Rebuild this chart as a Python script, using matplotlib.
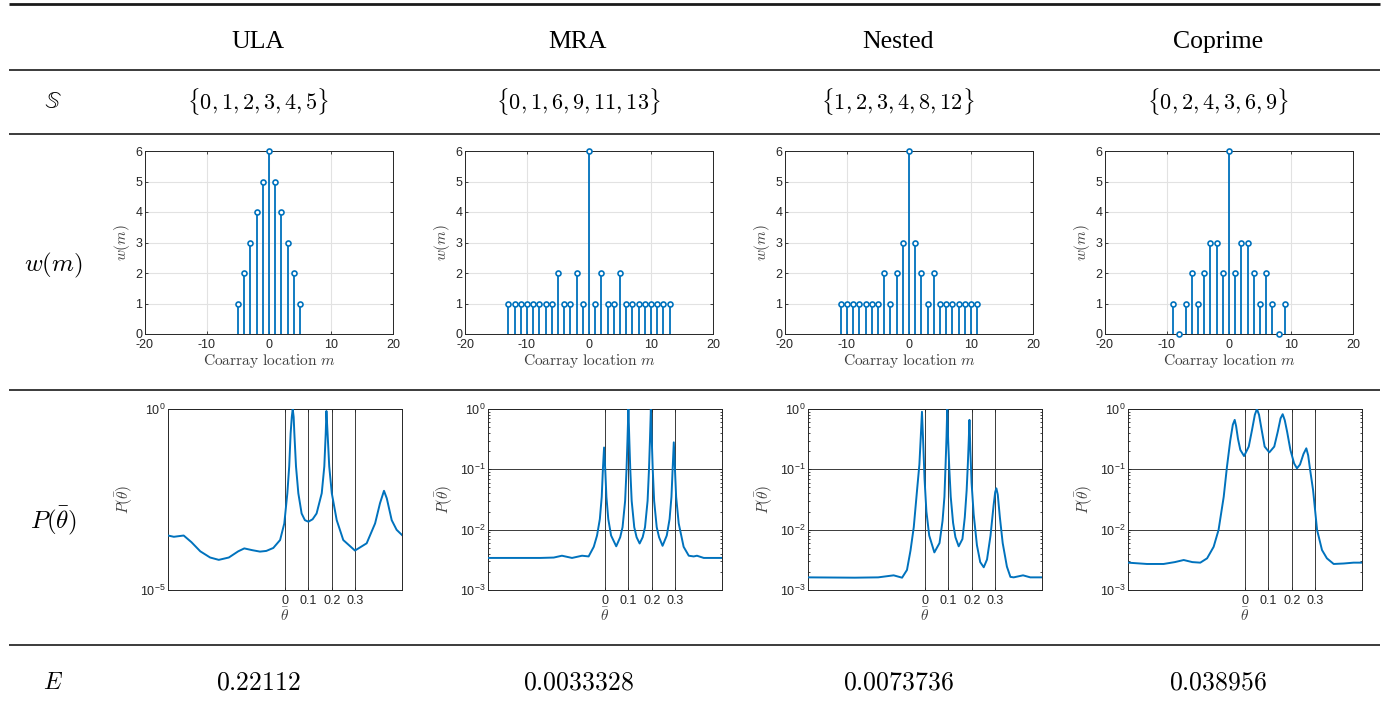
import numpy as np
import matplotlib
matplotlib.use("Agg")
import matplotlib.pyplot as plt
from matplotlib.ticker import FixedLocator, NullLocator, LogLocator

plt.rcParams["font.family"] = ["Liberation Sans", "DejaVu Sans"]
plt.rcParams["mathtext.fontset"] = "custom"
plt.rcParams["mathtext.rm"] = "Liberation Sans"
plt.rcParams["mathtext.it"] = "Liberation Sans:italic"
plt.rcParams["axes.unicode_minus"] = False

# ---- table content ----
arrays = ["ULA", "MRA", "Nested", "Coprime"]
sensor_sets = [r"$\{0,1,2,3,4,5\}$", r"$\{0,1,6,9,11,13\}$",
               r"$\{1,2,3,4,8,12\}$", r"$\{0,2,4,3,6,9\}$"]
energies = ["0.22112", "0.0033328", "0.0073736", "0.038956"]

# ---- weight functions w(m) ----
ula_m = list(range(-5, 6))
ula_w = [1, 2, 3, 4, 5, 6, 5, 4, 3, 2, 1]
mra_m = list(range(-13, 14))
mra_w = [1, 1, 1, 1, 1, 1, 1, 1, 2, 1, 1, 2, 1, 6,
         1, 2, 1, 1, 2, 1, 1, 1, 1, 1, 1, 1, 1]
nested_m = list(range(-11, 12))
nested_w = [1, 1, 1, 1, 1, 1, 1, 2, 1, 2, 3, 6,
            3, 2, 1, 2, 1, 1, 1, 1, 1, 1, 1]
coprime_m = list(range(-9, 10))
coprime_w = [1, 0, 1, 2, 1, 2, 3, 3, 2, 6, 2, 3, 3, 2, 1, 2, 1, 0, 1]

# ---- spectra P(theta_bar) ----
ula_theta = [-0.500, -0.475, -0.433, -0.400, -0.362, -0.320, -0.283, -0.240, -0.200,
             -0.174, -0.140, -0.107, -0.080, -0.050, -0.021, -0.003, 0.010, 0.018,
             0.024, 0.029, 0.033, 0.037, 0.040, 0.047, 0.057, 0.071, 0.085, 0.100,
             0.118, 0.135, 0.157, 0.168, 0.174, 0.177, 0.182, 0.189, 0.200, 0.221,
             0.249, 0.299, 0.349, 0.385, 0.406, 0.423, 0.435, 0.456, 0.477, 0.500]
ula_p = [3.2e-4, 2.95e-4, 3.2e-4, 2.1e-4, 1.17e-4, 7.9e-5, 6.8e-5, 7.9e-5, 1.17e-4,
         1.41e-4, 1.26e-4, 1.15e-4, 1.2e-4, 1.45e-4, 2.4e-4, 6.9e-4, 4.7e-3, 2.6e-2,
         0.21, 0.6, 1.0, 0.6, 0.21, 2.6e-2, 4.7e-3, 1.3e-3, 8.5e-4, 7.7e-4,
         9.0e-4, 1.3e-3, 4.7e-3, 2.6e-2, 0.21, 0.88, 0.21, 2.6e-2, 4.7e-3, 8.5e-4,
         2.4e-4, 1.23e-4, 1.95e-4, 6.9e-4, 2.5e-3, 5.5e-3, 3.4e-3, 8.5e-4, 4.6e-4, 3.3e-4]

mra_theta = [-0.500, -0.390, -0.276, -0.219, -0.184, -0.141, -0.098, -0.070, -0.048,
             -0.034, -0.022, -0.014, -0.009, -0.004, 0.001, 0.006, 0.014, 0.026, 0.048,
             0.065, 0.075, 0.086, 0.092, 0.096, 0.100, 0.104, 0.108, 0.114, 0.125,
             0.135, 0.148, 0.161, 0.171, 0.182, 0.188, 0.192, 0.196, 0.200, 0.204,
             0.210, 0.221, 0.231, 0.246, 0.264, 0.276, 0.284, 0.289, 0.294, 0.299,
             0.304, 0.315, 0.336, 0.358, 0.379, 0.393, 0.422, 0.500]
mra_p = [3.4e-3, 3.4e-3, 3.4e-3, 3.45e-3, 3.7e-3, 3.4e-3, 3.7e-3, 3.6e-3, 5.2e-3,
         8.0e-3, 1.5e-2, 3.5e-2, 0.1, 0.23, 0.1, 3.5e-2, 1.5e-2, 8.0e-3, 5.3e-3,
         7.5e-3, 1.1e-2, 3.0e-2, 0.1, 0.3, 1.0, 0.3, 0.1, 3.0e-2, 1.1e-2,
         7.5e-3, 5.9e-3, 7.5e-3, 1.1e-2, 3.0e-2, 0.1, 0.3, 1.0, 0.3, 0.1,
         3.0e-2, 1.1e-2, 7.5e-3, 5.4e-3, 8.0e-3, 1.5e-2, 3.5e-2, 0.1, 0.28, 0.1,
         3.5e-2, 1.27e-2, 5.2e-3, 3.7e-3, 3.6e-3, 3.7e-3, 3.4e-3, 3.4e-3]

nested_theta = [-0.500, -0.300, -0.200, -0.134, -0.098, -0.077, -0.062, -0.048, -0.034,
                -0.024, -0.018, -0.013, -0.008, -0.002, 0.006, 0.018, 0.040, 0.062,
                0.075, 0.083, 0.088, 0.092, 0.095, 0.099, 0.104, 0.110, 0.120, 0.130,
                0.144, 0.160, 0.170, 0.178, 0.183, 0.187, 0.190, 0.194, 0.199, 0.208,
                0.222, 0.236, 0.251, 0.265, 0.280, 0.293, 0.300, 0.305, 0.311, 0.320,
                0.332, 0.350, 0.365, 0.379, 0.419, 0.450, 0.500]
nested_p = [1.62e-3, 1.6e-3, 1.62e-3, 1.75e-3, 1.6e-3, 2.15e-3, 4.5e-3, 1.1e-2, 4.5e-2,
            0.12, 0.35, 0.90, 0.3, 7.0e-2, 2.0e-2, 8.0e-3, 4.2e-3, 6.0e-3,
            1.4e-2, 3.5e-2, 0.12, 0.35, 1.0, 0.3, 0.1, 3.5e-2, 1.3e-2, 7.5e-3,
            5.3e-3, 7.0e-3, 1.6e-2, 4.5e-2, 0.12, 0.3, 0.66, 0.2, 6.0e-2, 1.8e-2,
            5.5e-3, 2.9e-3, 2.38e-3, 3.2e-3, 8.0e-3, 2.5e-2, 4.2e-2, 4.84e-2, 3.8e-2, 1.6e-2,
            6.0e-3, 2.44e-3, 1.65e-3, 1.62e-3, 1.75e-3, 1.62e-3, 1.62e-3]

coprime_theta = [-0.500, -0.419, -0.348, -0.300, -0.262, -0.225, -0.191, -0.162, -0.134,
                 -0.113, -0.091, -0.077, -0.063, -0.052, -0.044, -0.038, -0.030, -0.020,
                 -0.004, 0.016, 0.030, 0.042, 0.051, 0.060, 0.070, 0.084, 0.104, 0.125,
                 0.140, 0.152, 0.161, 0.170, 0.180, 0.194, 0.210, 0.222, 0.235, 0.250,
                 0.262, 0.270, 0.278, 0.291, 0.308, 0.329, 0.350, 0.379, 0.422, 0.464,
                 0.500]
coprime_p = [2.84e-3, 2.7e-3, 2.7e-3, 2.9e-3, 3.14e-3, 2.9e-3, 2.84e-3, 3.35e-3, 5.2e-3,
             9.9e-3, 3.5e-2, 0.111, 0.30, 0.55, 0.66, 0.52, 0.32, 0.21,
             0.166, 0.238, 0.45, 0.8, 1.0, 0.8, 0.48, 0.238, 0.191, 0.238,
             0.42, 0.7, 0.82, 0.65, 0.42, 0.21, 0.125, 0.104, 0.12, 0.18,
             0.223, 0.17, 0.1, 4.5e-2, 9.9e-3, 4.6e-3, 3.35e-3, 2.7e-3, 2.75e-3, 2.84e-3,
             2.84e-3]

weights = [(ula_m, ula_w), (mra_m, mra_w), (nested_m, nested_w), (coprime_m, coprime_w)]
spectra = [(ula_theta, ula_p), (mra_theta, mra_p),
           (nested_theta, nested_p), (coprime_theta, coprime_p)]
spec_decades = [(-5, 0), (-3, 0), (-3, 0), (-3, 0)]

W, H = 1387, 706
BLUE = "#0072BD"
AX_COL = "#262626"
LAB_COL = "#404040"

fig = plt.figure(figsize=(W / 100, H / 100), dpi=100)


def px_rect(l, t, r, b):
    return [l / W, 1 - b / H, (r - l) / W, (b - t) / H]


# background axes in pixel units for the table rules and text
bg = fig.add_axes([0, 0, 1, 1])
bg.set_xlim(0, W)
bg.set_ylim(H, 0)
bg.axis("off")

bg.hlines(4, 9, 1380, color="#1a1a1a", lw=2.0)
for yy in [70, 134, 390, 645]:
    bg.hlines(yy, 9, 1380, color="#1a1a1a", lw=1.2)

col_x = [258, 578, 898, 1218]
row_label_x = 53
bg.text(row_label_x, 102, r"$\mathbb{S}$", math_fontfamily="stix", fontsize=17,
        ha="center", va="center")
bg.text(row_label_x, 265, r"$w(m)$", math_fontfamily="cm", fontsize=18,
        ha="center", va="center")
bg.text(row_label_x, 521, r"$P(\bar{\theta})$", math_fontfamily="cm", fontsize=18,
        ha="center", va="center")
bg.text(row_label_x, 683, r"$E$", math_fontfamily="cm", fontsize=17,
        ha="center", va="center")

for i, cx in enumerate(col_x):
    bg.text(cx, 42, arrays[i], family="Liberation Serif", fontsize=18.5,
            ha="center", va="center")
    bg.text(cx, 102, sensor_sets[i], math_fontfamily="cm", fontsize=16,
            ha="center", va="center")
    bg.text(cx, 683, "$" + energies[i] + "$", math_fontfamily="cm", fontsize=18.5,
            ha="center", va="center")


def style_axes(ax):
    for s in ax.spines.values():
        s.set_color(AX_COL)
        s.set_linewidth(0.7)
    ax.tick_params(which="both", direction="in", top=True, right=True,
                   colors=AX_COL, labelsize=9, width=0.6, pad=2)
    ax.tick_params(axis="x", pad=3.5)
    ax.tick_params(which="major", length=2.5)
    ax.tick_params(which="minor", length=1.5)


for i in range(4):
    off = 320 * i

    # weight function stem plot
    ax = fig.add_axes(px_rect(145 + off, 151, 393 + off, 334))
    m, w = weights[i]
    markerline, stemlines, baseline = ax.stem(m, w, linefmt="-", markerfmt="o", basefmt=" ")
    stemlines.set_color(BLUE)
    stemlines.set_linewidth(1.3)
    markerline.set_markerfacecolor("white")
    markerline.set_markeredgecolor(BLUE)
    markerline.set_markersize(3.6)
    markerline.set_markeredgewidth(1.2)
    markerline.set_clip_on(False)
    markerline.set_zorder(4)
    ax.set_xlim(-20, 20)
    ax.set_ylim(0, 6)
    ax.set_xticks([-20, -10, 0, 10, 20])
    ax.set_yticks(range(7))
    ax.grid(True, color="#e2e2e2", lw=0.8)
    ax.set_axisbelow(True)
    style_axes(ax)
    ax.set_xlabel(r"$\mathrm{Coarray\ location}\ m$", math_fontfamily="cm",
                  fontsize=11.2, color=LAB_COL, labelpad=1)
    ax.set_ylabel(r"$w(m)$", math_fontfamily="cm", fontsize=11, color=LAB_COL,
                  labelpad=2)

    # spectrum
    ax = fig.add_axes(px_rect(168 + off, 409, 402 + off, 590))
    th, p = spectra[i]
    ax.plot(th, p, color=BLUE, lw=1.4, zorder=3)
    ax.set_yscale("log")
    lo, hi = spec_decades[i]
    ax.set_xlim(-0.5, 0.5)
    ax.set_ylim(10.0 ** lo, 10.0 ** hi)
    ax.set_xticks([0, 0.1, 0.2, 0.3])
    ax.set_xticklabels(["0", "0.1", "0.2", "0.3"])
    if i == 0:
        dec = [lo, hi]
        ax.yaxis.set_minor_locator(NullLocator())
    else:
        dec = list(range(lo, hi + 1))
        ax.yaxis.set_minor_locator(LogLocator(base=10, subs=np.arange(2, 10)))
    ax.yaxis.set_major_locator(FixedLocator([10.0 ** d for d in dec]))
    ax.set_yticklabels([r"$\mathrm{10^{%d}}$" % d for d in dec])
    ax.yaxis.set_minor_formatter(plt.NullFormatter())
    ax.grid(True, which="major", color="#3a3a3a", lw=0.7)
    ax.grid(False, which="minor")
    style_axes(ax)
    ax.set_xlabel(r"$\bar{\theta}$", math_fontfamily="cm", fontsize=11,
                  color=LAB_COL, labelpad=0)
    ax.set_ylabel(r"$P(\bar{\theta})$", math_fontfamily="cm", fontsize=11,
                  color=LAB_COL, labelpad=3)

fig.savefig("out.png", dpi=100)
